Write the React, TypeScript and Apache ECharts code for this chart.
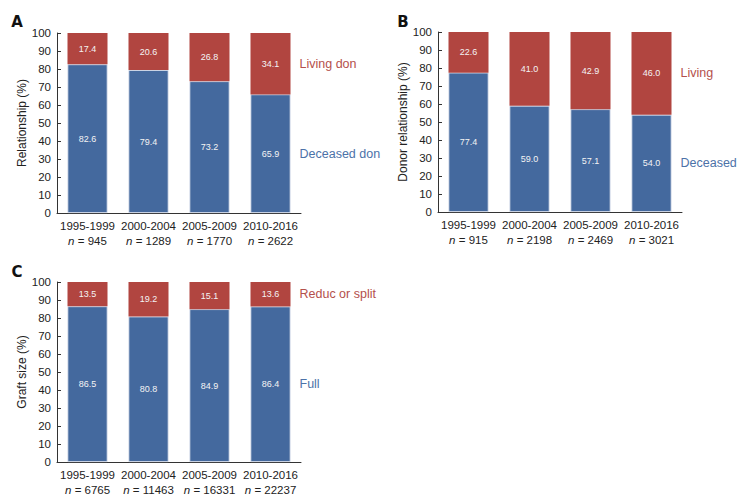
import React, { useEffect, useRef } from "react";
import * as echarts from "echarts";

const periods = ["1995-1999", "2000-2004", "2005-2009", "2010-2016"];

const nA = [945, 1289, 1770, 2622];
const deceasedA = [82.6, 79.4, 73.2, 65.9];
const livingA = [17.4, 20.6, 26.8, 34.1];

const nB = [915, 2198, 2469, 3021];
const deceasedB = [77.4, 59.0, 57.1, 54.0];
const livingB = [22.6, 41.0, 42.9, 46.0];

const nC = [6765, 11463, 16331, 22237];
const fullC = [86.5, 80.8, 84.9, 86.4];
const reducC = [13.5, 19.2, 15.1, 13.6];

const yTicks = { min: 0, max: 100, interval: 10 };

const panels = [
  { letter: "A", yName: "Relationship (%)", n: nA, low: deceasedA, high: livingA, lowName: "Deceased don", highName: "Living don" },
  { letter: "B", yName: "Donor relationship (%)", n: nB, low: deceasedB, high: livingB, lowName: "Deceased", highName: "Living" },
  { letter: "C", yName: "Graft size (%)", n: nC, low: fullC, high: reducC, lowName: "Full", highName: "Reduc or split" },
];

const BLUE = "#44699e";
const RED = "#b14540";
const BLUE_TXT = "#4c72a8";
const RED_TXT = "#b4504c";
const FONT = "Liberation Sans";

export default function App() {
  const ref = useRef<HTMLDivElement>(null);
  useEffect(() => {
    if (!ref.current) return;
    const chart = echarts.init(ref.current, undefined, { renderer: "svg" });
    const grids = [
      { left: 57, top: 33, width: 244, height: 180 },
      { left: 438, top: 32, width: 244, height: 180 },
      { left: 57, top: 282, width: 244, height: 180 },
    ];
    const xAxis: any[] = [];
    const yAxis: any[] = [];
    const series: any[] = [];
    panels.forEach((p, i) => {
      xAxis.push({
        type: "category",
        gridIndex: i,
        data: periods.map((c, k) => ({ value: c, n: p.n[k] })),
        axisTick: { show: false },
        axisLine: { lineStyle: { color: "#333", width: 1 } },
        axisLabel: {
          margin: 5,
          interval: 0,
          formatter: (v: string) => {
            const k = periods.indexOf(v);
            return `{p|${v}}\n{i|n} {p|= ${p.n[k]}}`;
          },
          rich: {
            p: { fontFamily: FONT, fontSize: 11.5, color: "#222", lineHeight: 15 },
            i: { fontFamily: FONT, fontSize: 11.5, color: "#222", fontStyle: "italic", lineHeight: 15 },
          },
        },
      });
      yAxis.push({
        type: "value",
        gridIndex: i,
        ...yTicks,
        name: p.yName,
        nameLocation: "middle",
        nameGap: 29,
        nameTextStyle: { fontFamily: FONT, fontSize: 12, color: "#222" },
        axisLine: { show: true, lineStyle: { color: "#333", width: 1 } },
        axisTick: { show: true, inside: true, length: 4, lineStyle: { color: "#333" } },
        splitLine: { show: false },
        axisLabel: { fontFamily: FONT, fontSize: 11.5, color: "#222", margin: 6 },
      });
      const lbl = {
        show: true,
        position: "inside",
        color: "#f4f4f4",
        fontFamily: FONT,
        fontSize: 9,
        formatter: (d: any) => Number(d.value).toFixed(1),
      };
      series.push({
        type: "bar",
        name: p.lowName,
        xAxisIndex: i,
        yAxisIndex: i,
        stack: "s" + i,
        barWidth: 40,
        data: p.low,
        itemStyle: { color: BLUE, borderColor: "#d5dceb", borderWidth: 0.8 },
        label: lbl,
      });
      series.push({
        type: "bar",
        name: p.highName,
        xAxisIndex: i,
        yAxisIndex: i,
        stack: "s" + i,
        barWidth: 40,
        data: p.high,
        itemStyle: { color: RED },
        label: lbl,
      });
    });

    chart.setOption({
      animation: false,
      backgroundColor: "#fff",
      grid: grids,
      xAxis,
      yAxis,
      series,
    });

    const letterPos = [
      [17, 22],
      [403, 22],
      [17, 272],
    ];
    const graphic: any[] = [];
    panels.forEach((p, i) => {
      graphic.push({
        type: "text",
        x: letterPos[i][0],
        y: letterPos[i][1],
        style: {
          text: p.letter,
          fontFamily: "DejaVu Sans",
          fontWeight: "bold",
          fontSize: 15,
          fill: "#111",
          align: "center",
          verticalAlign: "middle",
        },
      });
      const last = periods.length - 1;
      const lowMid = p.low[last] / 2;
      const highMid = p.low[last] + p.high[last] / 2;
      const ptLow = chart.convertToPixel({ xAxisIndex: i, yAxisIndex: i }, [last, lowMid]) as number[];
      const ptHigh = chart.convertToPixel({ xAxisIndex: i, yAxisIndex: i }, [last, highMid]) as number[];
      graphic.push({
        type: "text",
        x: ptHigh[0] + 29,
        y: ptHigh[1],
        style: { text: p.highName, fontFamily: FONT, fontSize: 12.5, fill: RED_TXT, verticalAlign: "middle" },
      });
      graphic.push({
        type: "text",
        x: ptLow[0] + 29,
        y: ptLow[1],
        style: { text: p.lowName, fontFamily: FONT, fontSize: 12.5, fill: BLUE_TXT, verticalAlign: "middle" },
      });
    });
    chart.setOption({ graphic });

    return () => chart.dispose();
  }, []);
  return <div ref={ref} style={{ width: 742, height: 503, position: "absolute", left: 0, top: 0 }} />;
}
